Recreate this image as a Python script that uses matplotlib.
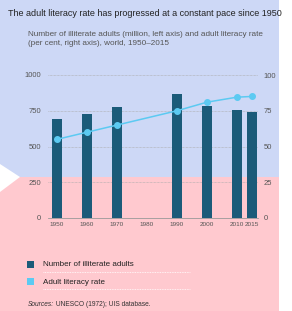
import matplotlib
matplotlib.use("Agg")
import matplotlib.pyplot as plt
from matplotlib.patches import Rectangle, Polygon

years = [1950, 1960, 1970, 1990, 2000, 2010, 2015]
illiterate = [695, 728, 775, 870, 782, 752, 740]
literacy = [55, 60, 65, 75, 81, 84.5, 85]
tick_years = [1950, 1960, 1970, 1980, 1990, 2000, 2010, 2015]

bar_col = '#1b5b79'
line_col = '#5ccaf2'
blue_bg = '#cdd8f6'
pink_bg = '#ffc9cf'
txt = '#555555'

plt.rcParams['font.family'] = ['Liberation Sans', 'DejaVu Sans']

W, H = 292, 311
fig = plt.figure(figsize=(W / 100, H / 100), dpi=100)

# background panels, drawn in pixel coords
bg = fig.add_axes([0, 0, 1, 1], zorder=-5)
bg.set_xlim(0, W)
bg.set_ylim(H, 0)
bg.axis('off')
bg.add_patch(Rectangle((0, 0), 279, 177, color=blue_bg, lw=0))
bg.add_patch(Rectangle((0, 177), 279, H - 177, color=pink_bg, lw=0))
bg.add_patch(Polygon([(0, 164), (20, 177), (0, 192)], color='white', lw=0))

ax = fig.add_axes([48 / W, 1 - 218 / H, 210 / W, 143 / H])
ax.patch.set_alpha(0)
ax.bar(years, illiterate, width=3.6, color=bar_col, zorder=3)
ax.set_xlim(1947, 2017)
ax.set_ylim(0, 1000)
ax.set_yticks([0, 250, 500, 750, 1000])
ax.set_xticks(tick_years)
ax.set_xticklabels([str(y) for y in tick_years])
for s in ['top', 'right', 'left']:
    ax.spines[s].set_visible(False)
ax.spines['bottom'].set_color('#999999')
ax.spines['bottom'].set_linewidth(0.6)
ax.tick_params(axis='both', length=0, labelsize=5.5, colors=txt)
ax.tick_params(axis='x', pad=3, labelsize=4.6)
ax.tick_params(axis='y', pad=5)
ax.yaxis.grid(True, color='#aaaaaa', linestyle=(0, (1, 1)), linewidth=0.5)
ax.set_axisbelow(True)

ax2 = ax.twinx()
ax2.plot(years, literacy, color=line_col, marker='o', markersize=4, linewidth=1.1, zorder=5)
ax2.set_ylim(0, 100)
ax2.set_yticks([0, 25, 50, 75, 100])
for s in ['top', 'right', 'left', 'bottom']:
    ax2.spines[s].set_visible(False)
ax2.tick_params(axis='y', length=0, labelsize=5.5, colors=txt, pad=4)

# titles
bg.text(8, 14, 'The adult literacy rate has progressed at a constant pace since 1950',
        fontsize=6.45, color='#222222', va='center', ha='left')
bg.text(28, 39,
        'Number of illiterate adults (million, left axis) and adult literacy rate\n(per cent, right axis), world, 1950\u20132015',
        fontsize=5.9, color=txt, va='center', ha='left', linespacing=1.5)

# legend
leg = [('Number of illiterate adults', bar_col, 265), ('Adult literacy rate', line_col, 282)]
for label, c, yy in leg:
    bg.add_patch(Rectangle((27, yy - 4), 7, 7, color=c, lw=0))
    bg.text(43, yy, label, fontsize=5.8, color='#222222', va='center', ha='left')
    bg.plot([43, 190], [yy + 7, yy + 7], color='#ffffff', linestyle=(0, (1, 1)), linewidth=0.6)

src = bg.text(28, 304, 'Sources:', fontsize=4.8, style='italic', color='#333333', va='center', ha='left')
bg.annotate(' UNESCO (1972); UIS database.', xy=(1, 0.5), xycoords=src, fontsize=4.8,
            color='#333333', va='center', ha='left')

fig.savefig('out.png', dpi=100)
